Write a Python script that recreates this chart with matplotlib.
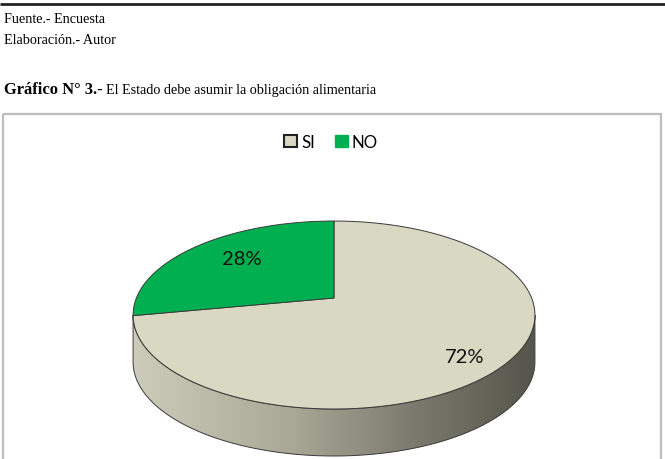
import numpy as np
import matplotlib
matplotlib.use("Agg")
import matplotlib.pyplot as plt
from matplotlib.patches import Polygon, Rectangle, Patch
from matplotlib.colors import LinearSegmentedColormap

# ---- datos ----
categorias = ["SI", "NO"]
valores = [72, 28]
etiquetas = ["72%", "28%"]
colores = ["#d9d8c3", "#00b050"]

fuente = "Fuente.- Encuesta"
elaboracion = "Elaboración.- Autor"
titulo_bold = "Gráfico N° 3.-"
titulo_txt = "El Estado debe asumir la obligación alimentaria"

# ---- geometría de la torta 3D (píxeles) ----
CX, CY = 334, 299          # centro proyectado
A, B, K = 197.6, 90.9, 0.181  # semiejes y perspectiva
DEPTH = 47                 # grosor lateral


def proj(t_deg):
    t = np.radians(t_deg)
    X, Y = np.cos(t), np.sin(t)
    w = 1 + K * Y
    return CX + A * X / w, CY - B * Y / w


fig = plt.figure(figsize=(6.65, 4.6), dpi=100)
ax = fig.add_axes([0, 0, 1, 1])
ax.set_xlim(0, 665)
ax.set_ylim(460, 0)
ax.axis("off")

# línea superior y textos de cabecera
ax.plot([0, 665], [5, 5], color="#222222", lw=2, solid_capstyle="butt")
serif = "Liberation Serif"
ax.text(4, 23, fuente, family=serif, fontsize=10.2, va="baseline", ha="left")
ax.text(4, 44, elaboracion, family=serif, fontsize=10.2, va="baseline", ha="left")
tb = ax.text(4, 94, titulo_bold, family=serif, fontsize=11.9, fontweight="bold",
             va="baseline", ha="left")
fig.canvas.draw()
bb = tb.get_window_extent().transformed(ax.transData.inverted())
ax.text(bb.x1 + 3, 94, titulo_txt, family=serif, fontsize=10.2, va="baseline", ha="left")

# marco del gráfico
ax.add_patch(Rectangle((3, 115), 658, 360, fill=False, edgecolor="#bdbdbd", lw=1.6))

# ---- lado (cara frontal con degradado) ----
t0 = 180 + np.degrees(np.arcsin(K))
t1 = 360 - np.degrees(np.arcsin(K))
ts = np.linspace(t0, t1, 200)
top_x, top_y = proj(ts)
side_pts = np.column_stack([np.r_[top_x, top_x[::-1]], np.r_[top_y, top_y[::-1] + DEPTH]])
side = Polygon(side_pts, closed=True, facecolor="none", edgecolor="#3a3a3a", lw=0.7, zorder=3)
ax.add_patch(side)
cmap = LinearSegmentedColormap.from_list(
    "lado", [(0, "#cdccba"), (0.4, "#a9a896"), (0.7, "#7b7a6e"), (1, "#55554b")])
grad = np.linspace(0, 1, 256).reshape(1, -1)
im = ax.imshow(grad, cmap=cmap, aspect="auto",
               extent=(top_x.min(), top_x.max(), top_y.max() + DEPTH, top_y.min()),
               zorder=2)
im.set_clip_path(side)

# ---- cara superior ----
total = sum(valores)
start = 90.0
for cat, v, col in zip(categorias, valores, colores):
    sweep = 360.0 * v / total
    # sentido horario desde las 12
    tt = np.linspace(start, start - sweep, 300)
    px, py = proj(tt)
    pts = np.column_stack([np.r_[CX, px], np.r_[CY, py]])
    ax.add_patch(Polygon(pts, closed=True, facecolor=col, edgecolor="#3a3a3a",
                         lw=0.7, zorder=4))
    start -= sweep

# etiquetas de porcentaje
lab_font = "Lato"
ax.text(465, 358, etiquetas[0], family=lab_font, fontsize=14.5, ha="center",
        va="center", zorder=6, color="#111111")
ax.text(242, 260, etiquetas[1], family=lab_font, fontsize=14.5, ha="center",
        va="center", zorder=6, color="#111111")

# leyenda
handles = [Patch(facecolor=colores[0], edgecolor="#222222", lw=1.5, label=categorias[0]),
           Patch(facecolor=colores[1], edgecolor=colores[1], lw=1.0, label=categorias[1])]
fig.legend(handles=handles, loc="center", bbox_to_anchor=(331 / 665, 1 - 143 / 460),
           ncol=2, frameon=False, handlelength=0.75, handleheight=0.75,
           handletextpad=0.25, columnspacing=1.2,
           prop={"family": lab_font, "size": 12.2})

fig.savefig("out.png", dpi=100)
